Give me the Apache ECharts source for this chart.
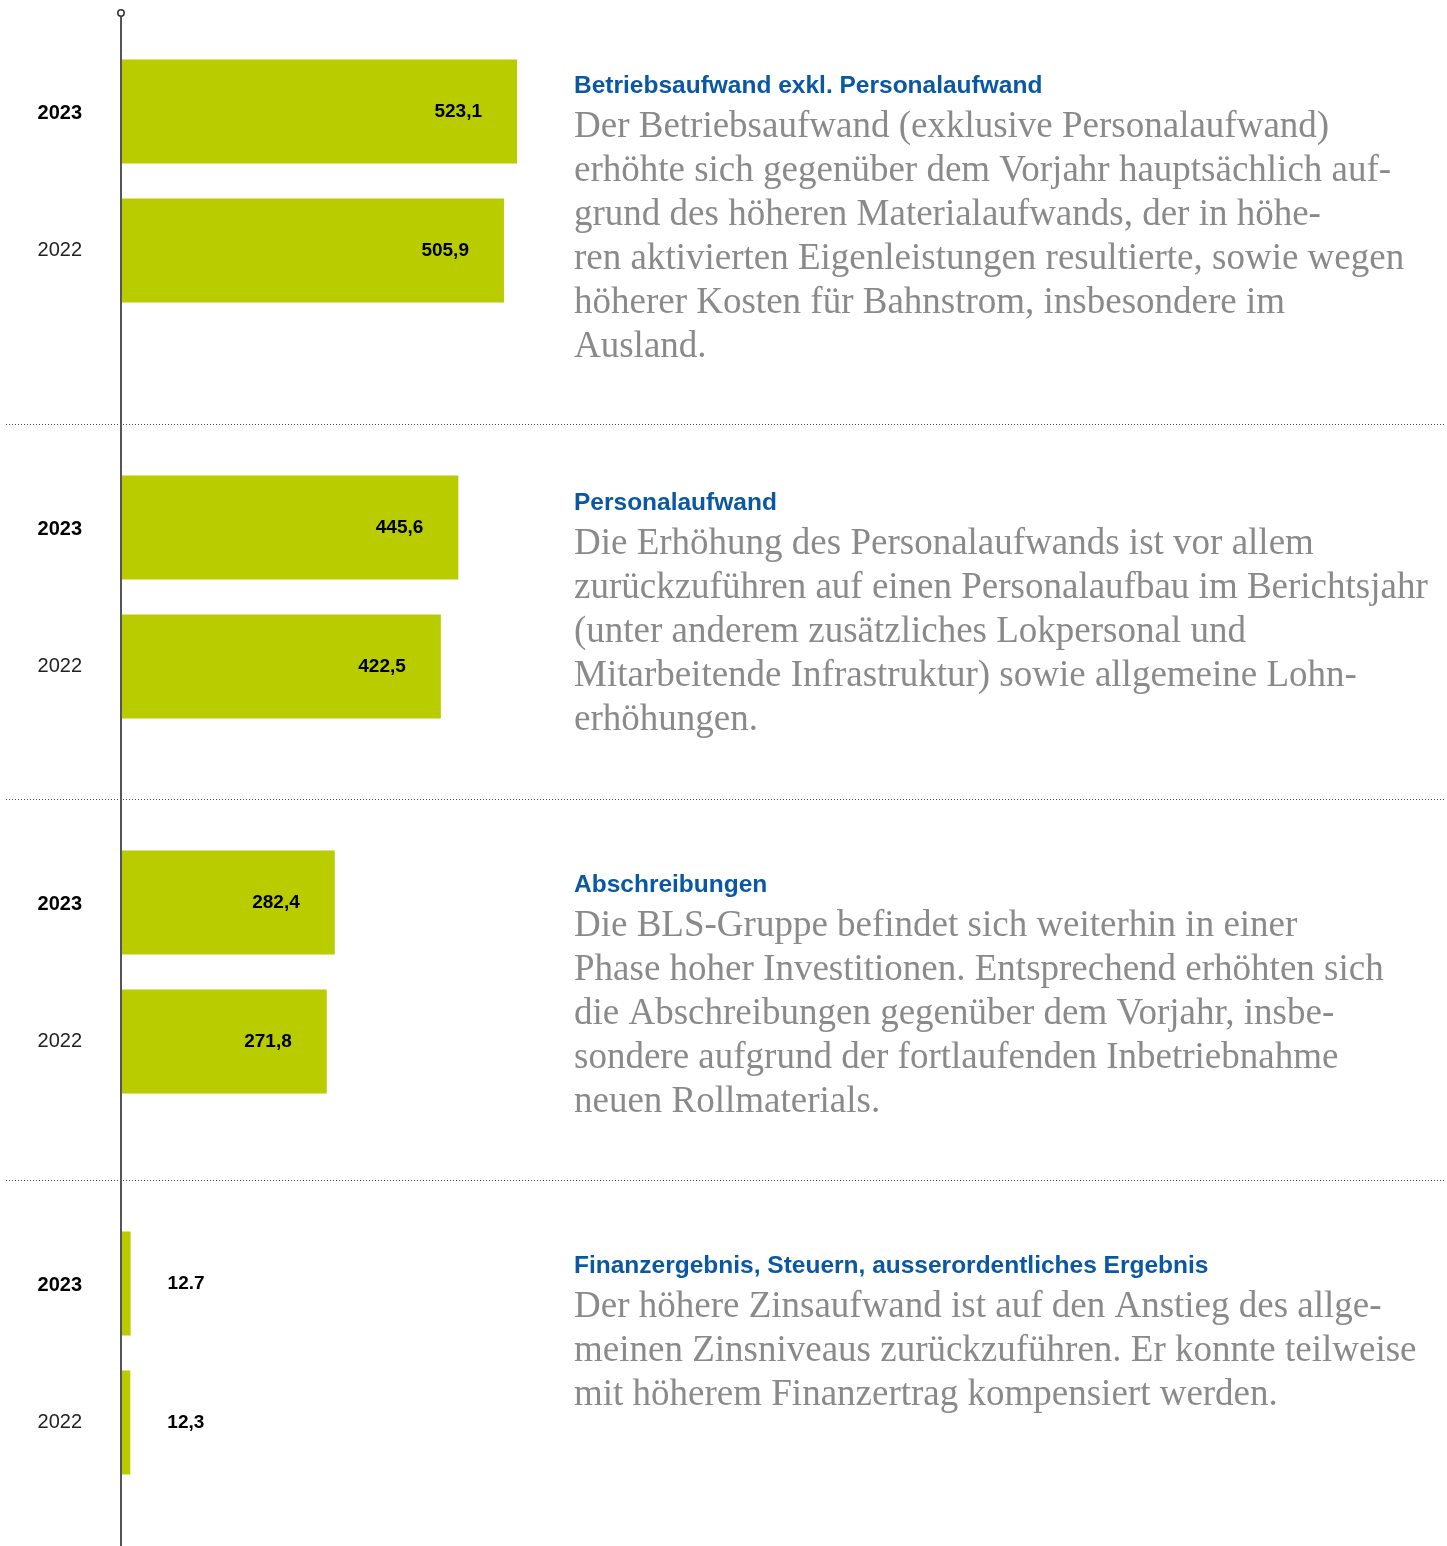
<!DOCTYPE html>
<html>
<head>
<meta charset="utf-8">
<script src="https://cdn.jsdelivr.net/npm/echarts@6/dist/echarts.min.js"></script>
<style>
  html, body { margin: 0; padding: 0; background: #fff; }
  #main { width: 1447px; height: 1546px; }
</style>
</head>
<body>
<div id="main"></div>
<script>
// Daten (Mio. CHF)
const years = ['2023', '2022'];
const betriebsaufwand = [523.1, 505.9];
const personalaufwand = [445.6, 422.5];
const abschreibungen = [282.4, 271.8];
const finanzergebnis = [12.7, 12.3];
const valueLabels = [
  ['523,1', '505,9'],
  ['445,6', '422,5'],
  ['282,4', '271,8'],
  ['12.7', '12,3']
];
const titles = [
  'Betriebsaufwand exkl. Personalaufwand',
  'Personalaufwand',
  'Abschreibungen',
  'Finanzergebnis, Steuern, ausserordentliches Ergebnis'
];
const texts = [
  ['Der Betriebsaufwand (exklusive Personalaufwand)',
   'erhöhte sich gegenüber dem Vorjahr hauptsächlich auf-',
   'grund des höheren Materialaufwands, der in höhe-',
   'ren aktivierten Eigenleistungen resultierte, sowie wegen',
   'höherer Kosten für Bahnstrom, insbesondere im',
   'Ausland.'],
  ['Die Erhöhung des Personalaufwands ist vor allem',
   'zurückzuführen auf einen Personalaufbau im Berichtsjahr',
   '(unter anderem zusätzliches Lokpersonal und',
   'Mitarbeitende Infrastruktur) sowie allgemeine Lohn-',
   'erhöhungen.'],
  ['Die BLS-Gruppe befindet sich weiterhin in einer',
   'Phase hoher Investitionen. Entsprechend erhöhten sich',
   'die Abschreibungen gegenüber dem Vorjahr, insbe-',
   'sondere aufgrund der fortlaufenden Inbetriebnahme',
   'neuen Rollmaterials.'],
  ['Der höhere Zinsaufwand ist auf den Anstieg des allge-',
   'meinen Zinsniveaus zurückzuführen. Er konnte teilweise',
   'mit höherem Finanzertrag kompensiert werden.']
];

const seriesData = [betriebsaufwand, personalaufwand, abschreibungen, finanzergebnis];
const gridTops = [42, 458, 833, 1214];
const titleY = [86, 503, 885, 1266];

const chart = echarts.init(document.getElementById('main'));

const grids = [], xAxes = [], yAxes = [], series = [];
seriesData.forEach(function (vals, i) {
  grids.push({ left: 121, width: 757, top: gridTops[i], height: 278 });
  xAxes.push({ gridIndex: i, type: 'value', min: 0, max: 1000, show: false });
  yAxes.push({
    gridIndex: i, type: 'category', data: years, inverse: true,
    axisLine: { show: false }, axisTick: { show: false }, splitLine: { show: false },
    axisLabel: {
      margin: 39,
      formatter: function (v) { return v === '2023' ? '{b|' + v + '}' : '{n|' + v + '}'; },
      rich: {
        b: { fontFamily: 'Liberation Sans', fontWeight: 'bold', fontSize: 20, color: '#000', padding: [4, 0, 0, 0] },
        n: { fontFamily: 'Liberation Sans', fontSize: 20, color: '#222' }
      }
    }
  });
  const small = i === 3;
  series.push({
    type: 'bar', xAxisIndex: i, yAxisIndex: i,
    data: vals, barWidth: 104,
    itemStyle: { color: '#b8cc00' },
    label: {
      show: true,
      position: small ? 'right' : 'insideRight',
      distance: small ? 37 : 35,
      fontFamily: 'Liberation Sans', fontWeight: 'bold', fontSize: 19, color: '#000',
      formatter: function (p) { return valueLabels[i][p.dataIndex]; }
    },
    silent: true
  });
});

const graphic = [];
// Achse
graphic.push({ type: 'line', z: 100, shape: { x1: 121, y1: 17, x2: 121, y2: 1546 },
  style: { stroke: '#555', lineWidth: 2 } });
graphic.push({ type: 'circle', z: 101, shape: { cx: 121, cy: 13, r: 3.2 },
  style: { fill: '#fff', stroke: '#333', lineWidth: 1.5 } });
// Trennlinien
[424.5, 799.5, 1180.5].forEach(function (y) {
  graphic.push({ type: 'line', z: 99, shape: { x1: 6, y1: y, x2: 1445, y2: y },
    style: { stroke: '#444', lineWidth: 1, lineDash: [1, 2] } });
});
// Texte
titles.forEach(function (t, i) {
  graphic.push({ type: 'text', x: 574, y: titleY[i], style: {
    text: t, fill: '#0a58a4', font: 'bold 24.5px "Liberation Sans"', verticalAlign: 'middle' } });
  texts[i].forEach(function (line, j) {
    graphic.push({ type: 'text', x: 574, y: titleY[i] + 41 + j * 44, style: {
      text: line, fill: '#8a8a8a', font: '37px "Liberation Serif"', verticalAlign: 'middle' } });
  });
});

chart.setOption({
  animation: false,
  grid: grids, xAxis: xAxes, yAxis: yAxes, series: series,
  graphic: graphic
});
</script>
</body>
</html>
